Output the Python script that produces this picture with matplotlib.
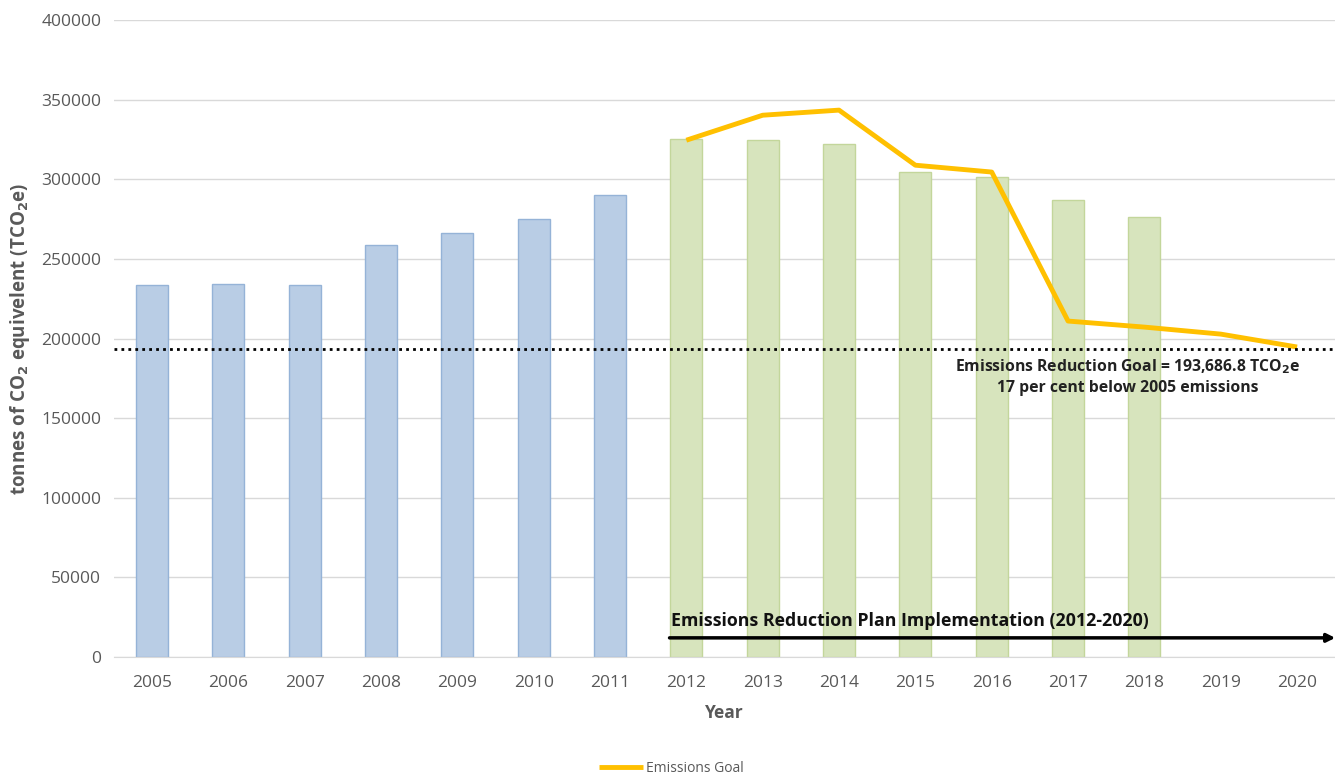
import numpy as np
import matplotlib.pyplot as plt

years = ['2005', '2006', '2007', '2008', '2009', '2010', '2011', '2012',
         '2013', '2014', '2015', '2016', '2017', '2018', '2019', '2020']
emissions = [233600, 234200, 233600, 258700, 266200, 275000, 290100,
             325300, 324600, 322100, 304600, 301400, 287000, 276300]
goal_years = ['2012', '2013', '2014', '2015', '2016', '2017', '2018', '2019', '2020']
goal = [324600, 340300, 343500, 308900, 304600, 211000, 207200, 202800, 194700]
reduction_goal = 193686.8

grey = '#595959'
x = np.arange(len(years))

fig = plt.figure(figsize=(13.35, 7.76), dpi=100)
ax = fig.add_axes([0.0852, 0.1534, 0.915, 0.8206])

for i, v in enumerate(emissions):
    if int(years[i]) < 2012:
        fc, ec = '#B9CDE5', '#95B3D7'
    else:
        fc, ec = '#D7E4BD', '#C3D69B'
    ax.bar(x[i], v, width=0.42, color=fc, edgecolor=ec, linewidth=1, zorder=2)

gx = [years.index(y) for y in goal_years]
ax.plot(gx, goal, color='#FFC000', linewidth=3.5, solid_capstyle='butt',
        zorder=4, label='Emissions Goal')

ax.axhline(reduction_goal, color='black', linestyle=(0, (1, 1.5)), linewidth=2, zorder=5)
ax.text(12.78, 176000, 'Emissions Reduction Goal = 193,686.8 TCO$_\\mathbf{2}$e\n17 per cent below 2005 emissions',
        ha='center', va='center', fontsize=11.3, fontweight='bold', color='#222222',
        linespacing=1.3, family='Open Sans', zorder=6)

ax.annotate('', xy=(15.5, 12000), xytext=(6.78, 12000),
            arrowprops=dict(arrowstyle='-|>', color='black', lw=2.5,
                            shrinkA=0, shrinkB=0, mutation_scale=12), zorder=6)
ax.text(6.8, 17000, 'Emissions Reduction Plan Implementation (2012-2020)',
        ha='left', va='bottom', fontsize=12.8, fontweight='bold', color='#111111',
        family='Open Sans', zorder=6)

ax.set_xlim(-0.5, 15.5)
ax.set_ylim(0, 400000)
ax.set_yticks(np.arange(0, 400001, 50000))
ax.set_xticks(x)
ax.set_xticklabels(years)
ax.grid(axis='y', color='#D9D9D9', linewidth=1, zorder=0)
ax.set_axisbelow(True)
for s in ['top', 'right', 'left']:
    ax.spines[s].set_visible(False)
ax.spines['bottom'].set_color('#D9D9D9')
ax.tick_params(length=0, colors=grey, labelsize=12.5)
ax.tick_params(axis='x', pad=13)
ax.tick_params(axis='y', pad=9)
for lab in ax.get_xticklabels() + ax.get_yticklabels():
    lab.set_family('Open Sans')

ax.set_xlabel('Year', fontsize=12.5, fontweight='bold', color=grey, family='Open Sans', labelpad=9)
ax.set_ylabel('tonnes of CO$_\\mathbf{2}$ equivelent (TCO$_\\mathbf{2}$e)', fontsize=13.5,
              fontweight='bold', color=grey, family='Open Sans', labelpad=7)

fig.legend(loc='lower center', bbox_to_anchor=(0.503, -0.016), frameon=False,
           prop={'family': 'Open Sans', 'size': 10}, labelcolor=grey,
           handlelength=3.2, handletextpad=0.2)

fig.savefig('out.png', dpi=100)
